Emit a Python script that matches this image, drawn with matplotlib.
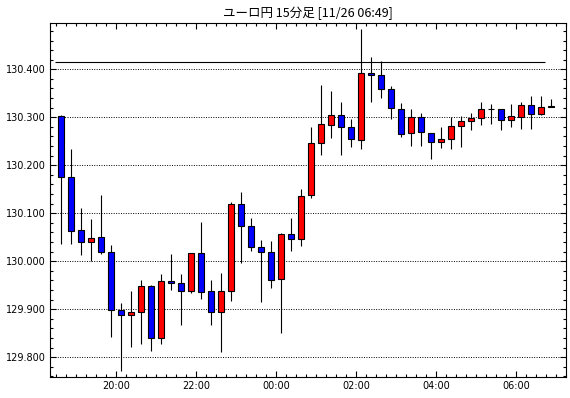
import matplotlib
matplotlib.use("Agg")
import matplotlib.pyplot as plt
import matplotlib.dates as mdates
import matplotlib.ticker as mticker
import numpy as np
import pandas as pd

# 15-minute candles, 11/25 18:30 -> 11/26 06:45
times = pd.date_range("2019-11-25 18:30", periods=50, freq="15min")
opens = [130.302, 130.175, 130.065, 130.040, 130.051, 130.019, 129.898, 129.888, 129.894, 129.948,
         129.840, 129.958, 129.954, 129.937, 130.017, 129.938, 129.894, 129.938, 130.119, 130.073,
         130.029, 130.019, 129.962, 130.056, 130.046, 130.137, 130.246, 130.283, 130.304, 130.279,
         130.252, 130.392, 130.388, 130.358, 130.317, 130.267, 130.301, 130.268, 130.249, 130.255,
         130.281, 130.293, 130.299, 130.317, 130.317, 130.295, 130.301, 130.326, 130.307, 130.321]
highs = [130.304, 130.234, 130.111, 130.088, 130.138, 130.033, 129.913, 129.938, 129.961, 129.950,
         129.974, 130.015, 129.974, 130.018, 130.082, 129.961, 129.976, 130.123, 130.144, 130.090,
         130.044, 130.042, 130.058, 130.090, 130.151, 130.280, 130.367, 130.355, 130.332, 130.297,
         130.484, 130.426, 130.417, 130.365, 130.329, 130.317, 130.308, 130.268, 130.279, 130.300,
         130.302, 130.309, 130.332, 130.328, 130.318, 130.328, 130.332, 130.344, 130.344, 130.338]
lows = [130.035, 130.035, 130.012, 130.000, 130.016, 129.843, 129.772, 129.822, 129.828, 129.812,
        129.828, 129.941, 129.866, 129.933, 129.922, 129.866, 129.810, 129.918, 129.997, 130.022,
        129.914, 129.945, 129.851, 130.022, 130.031, 130.131, 130.222, 130.256, 130.222, 130.237,
        130.233, 130.331, 130.341, 130.296, 130.258, 130.241, 130.241, 130.214, 130.236, 130.234,
        130.238, 130.274, 130.283, 130.285, 130.273, 130.279, 130.276, 130.275, 130.305, 130.321]
closes = [130.175, 130.062, 130.040, 130.048, 130.019, 129.898, 129.888, 129.894, 129.948, 129.840,
          129.958, 129.954, 129.937, 130.017, 129.935, 129.894, 129.938, 130.119, 130.074, 130.029,
          130.019, 129.960, 130.056, 130.046, 130.135, 130.246, 130.285, 130.304, 130.279, 130.254,
          130.392, 130.388, 130.358, 130.319, 130.265, 130.301, 130.269, 130.249, 130.254, 130.281,
          130.293, 130.299, 130.317, 130.317, 130.295, 130.303, 130.326, 130.307, 130.321, 130.323]

resistance = 130.415
resistance_from = pd.Timestamp("2019-11-25 18:28")
resistance_to = pd.Timestamp("2019-11-26 06:43")

title = "ユーロ円 15分足 [11/26 06:49]"

opens = np.array(opens)
closes = np.array(closes)
highs = np.array(highs)
lows = np.array(lows)

fig = plt.figure(figsize=(5.7, 3.98), dpi=100)
ax = fig.add_axes([49.5 / 570, 20.7 / 398, (566 - 49.5) / 570, (377.3 - 23) / 398])

centers = mdates.date2num(times + pd.Timedelta(minutes=7.5))
width = 0.1625 / 24
up = closes >= opens
colors = np.where(up, "#ff0000", "#0000ff")
bottoms = np.minimum(opens, closes)
heights = np.maximum(np.abs(closes - opens), 0.0004)

ax.vlines(centers, lows, highs, color="black", linewidth=0.8, zorder=2)
ax.bar(centers, heights, width=width, bottom=bottoms, color=colors,
       edgecolor="black", linewidth=0.8, zorder=3)

ax.hlines(resistance, mdates.date2num(resistance_from), mdates.date2num(resistance_to),
          color="black", linewidth=0.8, zorder=2)

ax.set_xlim(mdates.date2num(pd.Timestamp("2019-11-25 18:20")),
            mdates.date2num(pd.Timestamp("2019-11-26 07:15")))
ax.set_ylim(129.758, 130.4965)

ax.xaxis.set_major_locator(mdates.HourLocator(byhour=range(0, 24, 2)))
ax.xaxis.set_minor_locator(mdates.MinuteLocator(byminute=[0, 15, 30, 45]))
ax.xaxis.set_major_formatter(mdates.DateFormatter("%H:%M"))
ax.yaxis.set_major_locator(mticker.MultipleLocator(0.1))
ax.yaxis.set_minor_locator(mticker.MultipleLocator(0.02))
ax.yaxis.set_major_formatter(mticker.FormatStrFormatter("%.3f"))

ax.yaxis.grid(True, which="major", color="black", linestyle=(0, (1, 1.5)), linewidth=0.7)
ax.set_axisbelow(True)

ax.tick_params(which="both", direction="in", top=True, right=True, width=0.8)
ax.tick_params(which="major", length=4.5, pad=2.5)
ax.tick_params(which="minor", length=2.2)
for lab in ax.get_xticklabels() + ax.get_yticklabels():
    lab.set_family("DejaVu Sans")
    lab.set_fontsize(7)
for s in ax.spines.values():
    s.set_linewidth(0.8)

ax.set_title(title, fontsize=9, family=["Noto Sans CJK JP", "DejaVu Sans"], pad=4)

fig.savefig("out.png", dpi=100)
